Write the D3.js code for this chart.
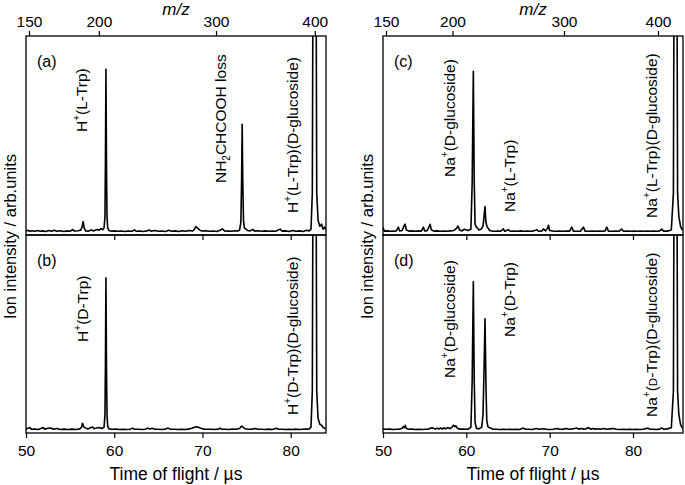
<!DOCTYPE html>
<html>
<head>
<meta charset="utf-8">
<script src="https://cdnjs.cloudflare.com/ajax/libs/d3/7.8.5/d3.min.js"></script>
<style>
  body { margin: 0; background: #fff; }
  svg { font-family: "Liberation Sans", Arial, sans-serif; }
</style>
</head>
<body>
<div id="chart"></div>
<script>
// data

const tofTicks = [50, 60, 70, 80];
const mzTicks = [150, 200, 300, 400];
const tofDomainLeft = [50, 84];
const tofDomainRight = [50, 86];
// time of flight (µs) at m/z 150 and m/z 400, t ~ sqrt(m/z)
const mzCalLeft = [50.34, 82.73];
const mzCalRight = [50.36, 83.0];

// [time of flight µs, intensity] ; 100 = top of the panel
const specA = [
  [50.0,0.6],[50.2,0.9],[50.4,0.4],[50.7,0.7],[51.0,0.4],[51.3,0.8],[51.6,0.4],[51.9,0.6],[52.2,0.3],
  [52.6,0.8],[52.9,0.4],[53.2,0.9],[53.5,0.4],[53.9,0.7],[54.3,0.3],[54.7,0.6],[55.0,0.4],[55.3,1.3],
  [55.5,0.5],[55.9,0.7],[56.2,1.0],[56.35,2.5],[56.48,5.3],[56.6,2.0],[56.75,0.6],[57.1,0.5],[57.4,1.1],
  [57.7,0.6],[58.0,1.3],[58.3,1.0],[58.5,1.8],[58.7,1.2],[58.85,2.2],[58.95,8],[59.0,35],[59.06,83],
  [59.12,35],[59.18,8],[59.26,2.0],[59.4,0.8],[59.7,0.4],[60.0,0.6],[60.4,0.4],[60.8,0.5],[61.2,0.3],
  [61.6,0.5],[62.0,0.4],[62.3,1.1],[62.5,0.4],[62.9,0.5],[63.3,0.3],[63.7,0.6],[64.0,1.0],[64.2,0.4],
  [64.6,0.8],[65.0,0.4],[65.4,0.5],[65.8,0.3],[66.2,0.9],[66.5,0.4],[66.9,0.6],[67.3,0.3],[67.7,0.7],
  [68.1,0.4],[68.5,0.8],[68.9,0.5],[69.1,1.5],[69.25,2.8],[69.4,2.2],[69.55,1.6],[69.75,0.8],[70.0,0.5],
  [70.4,0.7],[70.8,0.4],[71.2,0.5],[71.6,0.3],[72.0,0.9],[72.25,1.6],[72.5,0.6],[72.9,0.5],[73.3,0.4],
  [73.7,0.7],[74.0,0.5],[74.2,0.9],[74.35,5],[74.43,25],[74.5,55],[74.57,25],[74.65,6],[74.75,2],
  [74.9,1.6],[75.1,0.8],[75.4,0.6],[75.7,1.4],[75.9,0.5],[76.3,0.7],[76.7,0.4],[77.1,0.6],[77.5,0.4],
  [77.9,0.5],[78.3,0.4],[78.8,1.5],[79.0,0.5],[79.4,0.6],[79.8,0.3],[80.2,0.8],[80.6,0.4],[81.0,0.6],
  [81.4,0.3],[81.8,0.9],[82.1,0.6],[82.3,1.5],[82.45,20],[82.7,400],[82.95,20],[83.1,6],[83.3,3],
  [83.5,4],[83.65,1.5],[83.85,2.5],[84.0,1]
];
const specB = [
  [50.0,0.5],[50.3,1.0],[50.45,1.3],[50.6,0.4],[51.0,0.5],[51.4,0.3],[51.95,1.3],[52.1,0.5],[52.5,0.9],
  [52.8,1.1],[53.1,0.4],[53.5,0.8],[53.9,0.3],[54.3,0.5],[54.8,0.3],[55.2,0.5],[55.7,0.3],[56.1,0.6],
  [56.3,1.5],[56.4,3.5],[56.5,2.2],[56.6,1.4],[56.8,1.0],[57.0,0.6],[57.3,1.2],[57.55,1.6],[57.7,0.7],
  [58.0,1.1],[58.3,1.3],[58.6,0.8],[58.85,1.5],[58.95,8],[59.0,33],[59.06,78],[59.12,33],[59.18,8],
  [59.26,1.8],[59.4,0.6],[59.8,0.4],[60.2,0.5],[60.6,0.3],[61.0,0.4],[61.4,0.3],[61.8,0.4],[62.1,1.0],
  [62.3,0.4],[62.7,0.4],[63.1,0.3],[63.5,0.4],[63.8,1.0],[64.0,0.5],[64.3,0.9],[64.6,0.4],[65.0,0.4],
  [65.4,0.3],[65.8,0.5],[66.1,1.0],[66.4,0.4],[66.8,0.4],[67.2,0.3],[67.6,0.4],[68.0,0.3],[68.4,0.5],
  [68.8,0.9],[69.1,1.4],[69.35,1.7],[69.6,1.3],[69.9,0.8],[70.2,0.5],[70.6,0.4],[71.0,0.4],[71.4,0.3],
  [71.8,0.5],[72.0,0.9],[72.2,0.4],[72.6,0.4],[73.0,0.3],[73.4,0.5],[73.8,0.4],[74.2,0.8],[74.45,2.0],
  [74.6,1.6],[74.8,0.7],[75.2,0.4],[75.6,0.5],[76.0,0.8],[76.3,0.4],[76.7,0.4],[77.1,0.3],[77.5,0.5],
  [77.9,0.3],[78.4,0.9],[78.6,0.4],[79.0,0.4],[79.4,0.3],[79.8,0.4],[80.2,0.3],[80.6,0.5],[81.0,0.3],
  [81.4,0.4],[81.8,0.5],[82.1,0.6],[82.3,1.5],[82.45,20],[82.7,400],[82.95,20],[83.1,6],[83.3,3],
  [83.5,2.5],[83.7,1.2],[84.0,0.8]
];
const specC = [
  [50.0,2.5],[50.15,0.5],[50.5,0.6],[50.9,0.4],[51.3,0.5],[51.6,0.6],[51.85,2.5],[52.0,0.6],[52.3,0.8],
  [52.5,3.0],[52.65,4.0],[52.8,1.0],[53.1,0.5],[53.5,0.6],[53.9,0.4],[54.3,0.6],[54.6,0.5],[54.85,2.5],
  [55.0,0.6],[55.3,0.7],[55.5,2.5],[55.65,4.0],[55.8,1.2],[56.1,0.5],[56.5,0.6],[56.9,0.4],[57.3,0.5],
  [57.7,0.4],[58.1,0.6],[58.5,0.8],[58.8,1.8],[59.0,3.0],[59.2,1.0],[59.5,0.6],[59.75,1.5],[59.9,1.2],
  [60.2,0.8],[60.55,1.5],[60.7,25],[60.84,82],[60.95,25],[61.05,4],[61.2,2.5],[61.35,2],[61.5,1.0],
  [61.8,1.5],[62.0,3],[62.12,8],[62.24,13],[62.35,5],[62.5,2.5],[62.65,1.8],[62.8,0.8],[63.1,0.5],
  [63.5,0.4],[63.8,0.5],[64.1,0.4],[64.45,1.6],[64.6,0.4],[65.05,1.2],[65.3,0.4],[65.7,0.5],[66.1,0.4],
  [66.5,0.6],[66.9,0.4],[67.3,0.5],[67.7,0.4],[68.1,0.6],[68.45,1.2],[68.7,0.4],[69.1,0.6],[69.25,1.6],
  [69.5,0.6],[69.75,2.0],[69.85,3.5],[70.0,0.8],[70.4,0.5],[70.8,0.4],[71.2,0.5],[71.6,0.4],[72.0,0.5],
  [72.4,0.5],[72.65,2.5],[72.85,0.5],[73.3,0.4],[73.7,0.5],[74.05,2.5],[74.25,0.5],[74.7,0.4],[75.1,0.5],
  [75.5,0.4],[75.9,0.5],[76.3,0.4],[76.65,0.6],[76.85,2.5],[77.05,0.5],[77.5,0.4],[77.9,0.5],[78.3,0.4],
  [78.65,1.5],[78.85,0.4],[79.3,0.5],[79.7,0.4],[80.1,0.5],[80.5,0.4],[80.9,0.5],[81.3,0.4],[81.7,0.5],
  [82.1,0.4],[82.5,0.5],[82.9,0.4],[83.2,0.6],[83.45,1.5],[83.65,0.5],[84.0,0.5],[84.3,0.6],[84.6,1.2],
  [84.85,20],[85.1,400],[85.35,20],[85.5,8],[85.7,3],[85.85,1.5],[86.0,1]
];
const specD = [
  [50.0,0.5],[50.4,0.4],[50.8,0.5],[51.2,0.3],[51.6,0.4],[52.0,0.5],[52.3,0.9],[52.45,1.8],[52.55,1.2],
  [52.68,2.4],[52.8,0.8],[53.1,0.4],[53.5,0.5],[53.9,0.3],[54.3,0.4],[54.7,0.3],[55.1,0.4],[55.5,0.5],
  [55.8,1.2],[56.0,1.0],[56.3,0.5],[56.5,1.0],[56.7,0.5],[56.9,1.1],[57.1,0.5],[57.35,1.2],[57.5,0.6],
  [57.8,1.3],[58.0,0.7],[58.3,1.5],[58.45,2.5],[58.6,1.8],[58.75,2.2],[58.9,1.0],[59.1,0.6],[59.5,0.5],
  [59.9,0.4],[60.3,0.6],[60.55,1.5],[60.7,25],[60.84,76],[60.95,25],[61.05,4],[61.2,1.0],[61.5,0.6],
  [61.85,1.5],[62.0,8],[62.12,30],[62.24,57],[62.36,22],[62.45,5],[62.6,1.6],[62.8,1.2],[63.0,0.9],
  [63.2,0.4],[63.6,0.4],[64.0,0.3],[64.4,0.4],[64.8,0.3],[65.2,0.4],[65.6,0.3],[66.0,0.4],[66.4,0.3],
  [66.85,1.0],[67.1,0.4],[67.5,0.4],[67.9,0.3],[68.4,0.8],[68.7,0.4],[69.3,0.7],[69.6,0.4],[70.0,0.3],
  [70.4,0.4],[70.9,0.8],[71.2,0.4],[71.6,0.5],[72.0,0.8],[72.3,0.4],[72.7,0.6],[73.0,0.8],[73.25,1.1],
  [73.5,0.5],[73.8,0.8],[74.1,0.5],[74.4,0.7],[74.65,1.3],[74.9,0.5],[75.2,0.8],[75.5,0.5],[75.8,0.7],
  [76.1,0.4],[76.5,0.8],[76.8,0.4],[77.2,0.6],[77.7,0.8],[78.0,0.4],[78.4,0.3],[78.8,0.4],[79.2,0.3],
  [79.6,0.4],[80.0,0.3],[80.4,0.4],[80.8,0.3],[81.2,0.4],[81.8,1.0],[82.0,0.4],[82.4,0.4],[82.8,0.3],
  [83.2,0.5],[83.45,1.1],[83.7,0.4],[84.1,0.6],[84.4,1.0],[84.6,1.2],[84.85,20],[85.1,400],[85.35,20],
  [85.5,8],[85.7,3],[85.85,1.5],[86.0,1]
];

// peak labels: text, anchor time, anchor intensity (text runs upward from there)
// ^ superscript, _ subscript, ~ small letter
const labelsA = [["H^+(L-Trp)", 56.91, 51.0], ["NH_2CHCOOH loss", 72.67, 25.0], ["H^+(L-Trp)(D-glucoside)", 80.83, 9.7]];
const labelsB = [["H^+(D-Trp)", 57.03, 45.2], ["H^+(D-Trp)(D-glucoside)", 80.83, 7.7]];
const labelsC = [["Na^+(D-glucoside)", 58.64, 28.1], ["Na^+(L-Trp)", 65.84, 10.2], ["Na^+(L-Trp)(D-glucoside)", 82.88, 7.2]];
const labelsD = [["Na^+(D-glucoside)", 58.64, 26.7], ["Na^+(D-Trp)", 65.84, 47.7], ["Na^+(~D-Trp)(D-glucoside)", 82.88, 6.7]];
const panelTags = ["(a)", "(b)", "(c)", "(d)"];

// layout

const width = 685;
const height = 485;
const rows = [[36, 235], [235, 433]];
const columns = [
  { x0: 26, x1: 326, domain: tofDomainLeft, mzCal: mzCalLeft, specs: [specA, specB], labels: [labelsA, labelsB], tags: [panelTags[0], panelTags[1]] },
  { x0: 383, x1: 683, domain: tofDomainRight, mzCal: mzCalRight, specs: [specC, specD], labels: [labelsC, labelsD], tags: [panelTags[2], panelTags[3]] }
];
const labelFont = 15.5;

const svg = d3.select('#chart')
  .append('svg').attr('width', width).attr('height', height);

function richText(sel, str) {
  const re = /\^(.)|_(.)|~(.)|([^\^_~]+)/g;
  let m, off = 0;
  while ((m = re.exec(str))) {
    if (m[1]) {
      sel.append('tspan').attr('dy', -7 - off).attr('font-size', 10).text(m[1]);
      off = -7;
    } else if (m[2]) {
      sel.append('tspan').attr('dy', 4 - off).attr('font-size', 10).text(m[2]);
      off = 4;
    } else if (m[3]) {
      sel.append('tspan').attr('dy', -off).attr('font-size', 11.5).text(m[3]);
      off = 0;
    } else {
      sel.append('tspan').attr('dy', -off).text(m[4]);
      off = 0;
    }
  }
}

columns.forEach((col, ci) => {
  const x = d3.scaleLinear().domain(col.domain).range([col.x0, col.x1]);
  const mz = d3.scaleSqrt().domain([150, 400]).range(col.mzCal.map(x));

  rows.forEach((r, ri) => {
    const y = d3.scaleLinear().domain([-1.5, 100]).range([r[1], r[0]]);
    const clipId = `clip-${ci}-${ri}`;
    svg.append('clipPath').attr('id', clipId)
      .append('rect')
      .attr('x', col.x0).attr('y', r[0])
      .attr('width', col.x1 - col.x0).attr('height', r[1] - r[0]);

    const line = d3.line().x(d => x(d[0])).y(d => y(d[1]));
    svg.append('path')
      .datum(col.specs[ri])
      .attr('clip-path', `url(#${clipId})`)
      .attr('fill', 'none')
      .attr('stroke', '#000')
      .attr('stroke-width', 1.6)
      .attr('stroke-linejoin', 'round')
      .attr('d', line);

    // bottom axis of each panel
    const ax = d3.axisBottom(x).tickSize(5).tickPadding(7);
    if (ri === 0) ax.tickValues(tofTicks.slice(1)).tickFormat('');
    else ax.tickValues(tofTicks);
    const g = svg.append('g')
      .attr('transform', `translate(0,${r[1]})`)
      .call(ax);
    g.select('.domain').remove();
    g.selectAll('line').attr('stroke-width', 1.2);
    g.selectAll('text').attr('font-size', 15.5).attr('font-family', '"Liberation Sans", Arial, sans-serif').attr('fill', '#000');

    // frame
    svg.append('rect')
      .attr('x', col.x0).attr('y', r[0])
      .attr('width', col.x1 - col.x0).attr('height', r[1] - r[0])
      .attr('fill', 'none').attr('stroke', '#000').attr('stroke-width', 1.3);

    // panel tag
    svg.append('text')
      .attr('x', x(col.domain[0]) + 11).attr('y', r[0] + 31)
      .attr('font-size', 16)
      .text(col.tags[ri]);

    // peak labels
    col.labels[ri].forEach(l => {
      const t = svg.append('text')
        .attr('transform', `translate(${x(l[1])},${y(l[2])}) rotate(-90)`)
        .attr('font-size', labelFont);
      richText(t, l[0]);
    });
  });

  // top m/z axis
  const gt = svg.append('g')
    .attr('transform', `translate(0,${rows[0][0]})`)
    .call(d3.axisTop(mz).tickValues(mzTicks).tickSize(5).tickPadding(4));
  gt.select('.domain').remove();
  gt.selectAll('line').attr('stroke-width', 1.2);
  gt.selectAll('text').attr('font-size', 15.5).attr('font-family', '"Liberation Sans", Arial, sans-serif').attr('fill', '#000');

  const cx = (col.x0 + col.x1) / 2;
  svg.append('text')
    .attr('x', cx).attr('y', 15)
    .attr('text-anchor', 'middle')
    .attr('font-size', 17).attr('font-style', 'italic')
    .text('m/z');

  svg.append('text')
    .attr('x', cx).attr('y', 480)
    .attr('text-anchor', 'middle')
    .attr('font-size', 17.5)
    .text('Time of flight / µs');

  svg.append('text')
    .attr('transform', `translate(${col.x0 - 10},${(rows[0][0] + rows[1][1]) / 2 + 2}) rotate(-90)`)
    .attr('text-anchor', 'middle')
    .attr('font-size', 16.5)
    .text('Ion intensity / arb.units');
});
</script>
</body>
</html>
